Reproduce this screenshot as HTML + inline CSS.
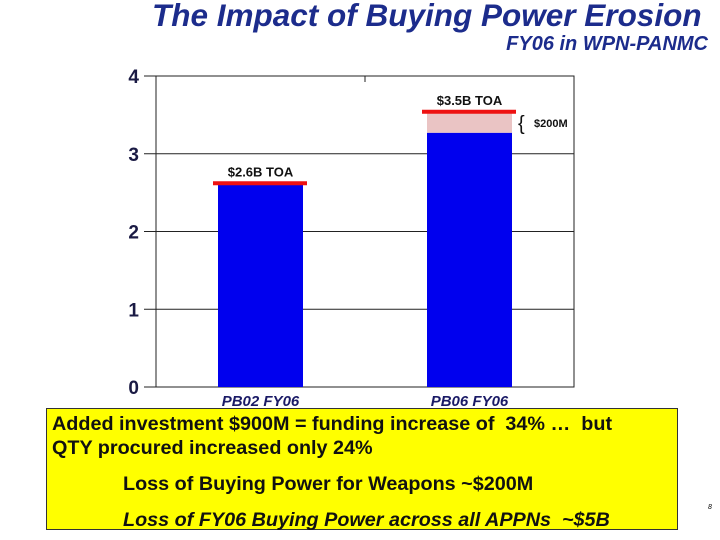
<!DOCTYPE html>
<html><head><meta charset="utf-8"><style>
body{margin:0;width:720px;height:540px;background:#fff;overflow:hidden;font-family:"Liberation Sans",sans-serif;position:relative}
.t{position:absolute;white-space:nowrap}
</style></head><body>
<div class="t" style="left:152px;top:-3px;font-size:31.5px;font-weight:bold;font-style:italic;color:#1c2c8c">The Impact of Buying Power Erosion</div>
<div class="t" style="right:12px;top:33px;font-size:20px;font-weight:bold;font-style:italic;color:#1c2c8c">FY06 in WPN-PANMC</div>
<svg id="chart" width="720" height="540" style="position:absolute;left:0;top:0"></svg>
<div style="position:absolute;left:46px;top:408px;width:630px;height:120px;background:#ffff00;border:1px solid #333"></div>
<div class="t" style="left:52px;top:413px;font-size:19.8px;font-weight:bold;color:#111">Added investment $900M = funding increase of&nbsp; 34% …&nbsp; but</div>
<div class="t" style="left:52px;top:437px;font-size:19.8px;font-weight:bold;color:#111">QTY procured increased only 24%</div>
<div class="t" style="left:123px;top:473px;font-size:19.8px;font-weight:bold;color:#111">Loss of Buying Power for Weapons ~$200M</div>
<div class="t" style="left:123px;top:509px;font-size:19.8px;font-weight:bold;font-style:italic;color:#111">Loss of FY06 Buying Power across all APPNs&nbsp; ~$5B</div>
<div class="t" style="left:708px;top:504px;font-size:7px;font-style:italic">8</div>
<script>
const categories=["PB02 FY06","PB06 FY06"];
const baseValues=[2.6,3.27];
const lossValues=[0,0.25];
const toaValues=[2.62,3.54];
const toaLabels=["$2.6B TOA","$3.5B TOA"];
const yTicks=[0,1,2,3,4];
const svg=document.getElementById('chart');const NS='http://www.w3.org/2000/svg';
const L=156,R=574,T=76,B=387,yMax=4;
const y=v=>B-(v/yMax)*(B-T);
const bandW=(R-L)/categories.length;
function mk(tag,a,txt){const e=document.createElementNS(NS,tag);for(const k in a)e.setAttribute(k,a[k]);if(txt!=null)e.textContent=txt;svg.appendChild(e);return e;}
let e=mk('rect',{x:L,y:T,width:R-L,height:B-T,fill:'none',stroke:'#222','stroke-width':1});

yTicks.forEach(t=>{
 let g=mk('line',{x1:L-12,x2:R,y1:y(t),y2:y(t),stroke:'#222','stroke-width':1});
 
 let l=mk('text',{x:139,y:y(t)+7,'text-anchor':'end','font-size':19,'font-weight':'bold',fill:'#1a1a44','font-family':'Liberation Sans,sans-serif'},t);
 
});
mk('line',{x1:365,x2:365,y1:T,y2:T+6,stroke:'#222'});
const bw=85;
const xc=i=>L+bandW*(i+0.5);
categories.forEach((c,i)=>{
 const cx2=xc(i);
 const x0=cx2-bw/2;
 let b=mk('rect',{x:x0,y:y(baseValues[i]),width:bw,height:B-y(baseValues[i]),fill:'#0000ee'});
 
 if(lossValues[i]>0){let p=mk('rect',{x:x0,y:y(baseValues[i]+lossValues[i]),width:bw,height:y(baseValues[i])-y(baseValues[i]+lossValues[i]),fill:'#eac4c4'});
  
  let br=mk('text',{x:x0+bw+6,y:(y(baseValues[i])+y(baseValues[i]+lossValues[i]))/2+7,'font-size':20,fill:'#111','font-family':'Liberation Sans,sans-serif'},'{');
  
  let lt=mk('text',{x:x0+bw+22,y:(y(baseValues[i])+y(baseValues[i]+lossValues[i]))/2+4,'font-size':11,'font-weight':'bold',fill:'#111','font-family':'Liberation Sans,sans-serif'},'$200M');
  }
 let r=mk('line',{x1:x0-5,x2:x0+bw+4,y1:y(toaValues[i]),y2:y(toaValues[i]),stroke:'#ee1111','stroke-width':4});
 
 let tl=mk('text',{x:cx2,y:y(toaValues[i])-7,'text-anchor':'middle','font-size':13,'font-weight':'bold',fill:'#111','font-family':'Liberation Sans,sans-serif'},toaLabels[i]);
 
 let xl=mk('text',{x:cx2,y:406,'text-anchor':'middle','font-size':15,'font-weight':'bold','font-style':'italic',fill:'#1a1a66','font-family':'Liberation Sans,sans-serif'},c);
 
});
</script>
</body></html>
